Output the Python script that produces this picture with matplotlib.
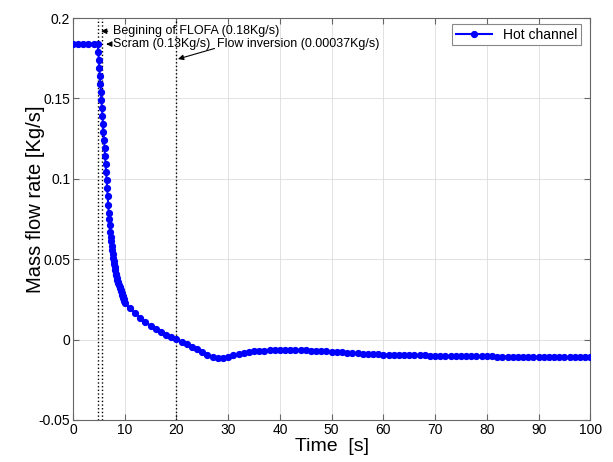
import matplotlib
matplotlib.use("Agg")
import matplotlib.pyplot as plt
import numpy as np

plt.rcParams['font.family'] = ['Liberation Sans', 'DejaVu Sans']

# Hot channel mass flow rate [Kg/s] vs time [s]
t_flat = [0, 1, 2, 3, 4, 4.8]
m_flat = [0.184, 0.184, 0.184, 0.184, 0.184, 0.184]

t_drop = [4.9, 5.0, 5.1, 5.2, 5.3, 5.4, 5.5, 5.6, 5.7, 5.8, 5.9, 6.0, 6.1, 6.2,
          6.3, 6.4, 6.5, 6.6, 6.7, 6.8, 6.9, 7.0, 7.1, 7.2, 7.3, 7.4, 7.5, 7.6,
          7.7, 7.8, 7.9, 8.0, 8.1, 8.2, 8.3, 8.4, 8.5, 8.6, 8.7, 8.8, 8.9, 9.0,
          9.1, 9.2, 9.3, 9.4, 9.5, 9.6, 9.7, 9.8, 9.9, 10.0]
m_drop = [0.179, 0.174, 0.169, 0.164, 0.159, 0.154, 0.149, 0.144, 0.139, 0.134,
          0.129, 0.124, 0.119, 0.114, 0.109, 0.104, 0.099, 0.094, 0.089, 0.084,
          0.079, 0.075, 0.071, 0.067, 0.064, 0.061, 0.058, 0.056, 0.053, 0.051,
          0.049, 0.047, 0.045, 0.043, 0.041, 0.040, 0.038, 0.037, 0.036, 0.035,
          0.034, 0.033, 0.032, 0.031, 0.030, 0.029, 0.028, 0.027, 0.026, 0.025,
          0.024, 0.023]

t_tail = list(range(11, 101))
m_tail = [0.0194, 0.0165, 0.0137, 0.0110, 0.0086, 0.0065, 0.0047, 0.0031, 0.0017, 0.0004,
          -0.0013, -0.0030, -0.0046, -0.0060, -0.0078, -0.0095, -0.0107, -0.0113, -0.0113, -0.0108,
          -0.0099, -0.0091, -0.0083, -0.0077, -0.0073, -0.0070, -0.0068, -0.0066, -0.0065, -0.0065,
          -0.0064, -0.0064, -0.0064, -0.0065, -0.0066, -0.0068, -0.0070, -0.0072, -0.0074, -0.0076,
          -0.0078, -0.0080, -0.0082, -0.0084, -0.0086, -0.0088, -0.0090, -0.0091, -0.0092, -0.0093,
          -0.0094, -0.0095, -0.0096, -0.0097, -0.0098, -0.0098, -0.0099, -0.0099, -0.0100, -0.0100,
          -0.0101, -0.0101, -0.0102, -0.0102, -0.0103, -0.0103, -0.0104, -0.0104, -0.0105, -0.0105,
          -0.0105, -0.0106, -0.0106, -0.0106, -0.0107, -0.0107, -0.0107, -0.0108, -0.0108, -0.0108,
          -0.0108, -0.0109, -0.0109, -0.0109, -0.0109, -0.0110, -0.0110, -0.0110, -0.0110, -0.0110]

time = t_flat + t_drop + t_tail
flow = m_flat + m_drop + m_tail

t_flofa = 4.8
t_scram = 5.7
t_inversion = 20

fig = plt.figure(figsize=(6.13, 4.62), dpi=100)
ax = fig.add_axes([0.119, 0.091, 0.844, 0.870])

ax.plot(time, flow, '-o', color='#0000ff', lw=1.5, ms=4.2, mfc='#0000ff',
        mec='#0000ff', label='Hot channel', zorder=3)

for tv in [t_flofa, t_scram, t_inversion]:
    ax.axvline(tv, color='black', ls=':', lw=1.0, zorder=2)

ax.set_xlim(0, 100)
ax.set_ylim(-0.05, 0.2)
ax.set_xticks(np.arange(0, 101, 10))
ax.set_yticks([-0.05, 0, 0.05, 0.1, 0.15, 0.2])
ax.set_yticklabels(['-0.05', '0', '0.05', '0.1', '0.15', '0.2'])
ax.grid(True, color='#dddddd', lw=0.6)
ax.set_axisbelow(True)
ax.tick_params(direction='in', top=True, right=True, labelsize=10, length=4,
               color='#666666', pad=2)
for s in ax.spines.values():
    s.set_color('#666666')
    s.set_linewidth(0.8)

ax.set_xlabel('Time  [s]', fontsize=14, labelpad=1)
ax.set_ylabel('Mass flow rate [Kg/s]', fontsize=14.5)
ax.yaxis.set_label_coords(-0.054, 0.55)

arrow = dict(arrowstyle='-|>', color='black', lw=0.8, mutation_scale=8)
ax.annotate('Begining of FLOFA (0.18Kg/s)', xy=(t_flofa + 0.1, 0.1918),
            xytext=(7.8, 0.1918), fontsize=9, va='center', arrowprops=arrow)
ax.annotate('Scram (0.13Kg/s)', xy=(t_scram + 0.2, 0.1838),
            xytext=(7.8, 0.1838), fontsize=9, va='center', arrowprops=arrow)
ax.annotate('Flow inversion (0.00037Kg/s)', xy=(t_inversion + 0.3, 0.1745),
            xytext=(27.9, 0.1838), fontsize=9, va='center',
            arrowprops=dict(arrowstyle='-|>', color='black', lw=0.8,
                            mutation_scale=8, shrinkA=0, shrinkB=0,
                            relpos=(0, 0.2)))

leg = ax.legend(loc='upper right', fontsize=10, fancybox=False, framealpha=1,
                edgecolor='#888888', handlelength=2.6, borderpad=0.25,
                borderaxespad=0.3, bbox_to_anchor=(0.99, 0.995))
leg.get_frame().set_linewidth(0.8)

fig.savefig('out.png', dpi=100)
